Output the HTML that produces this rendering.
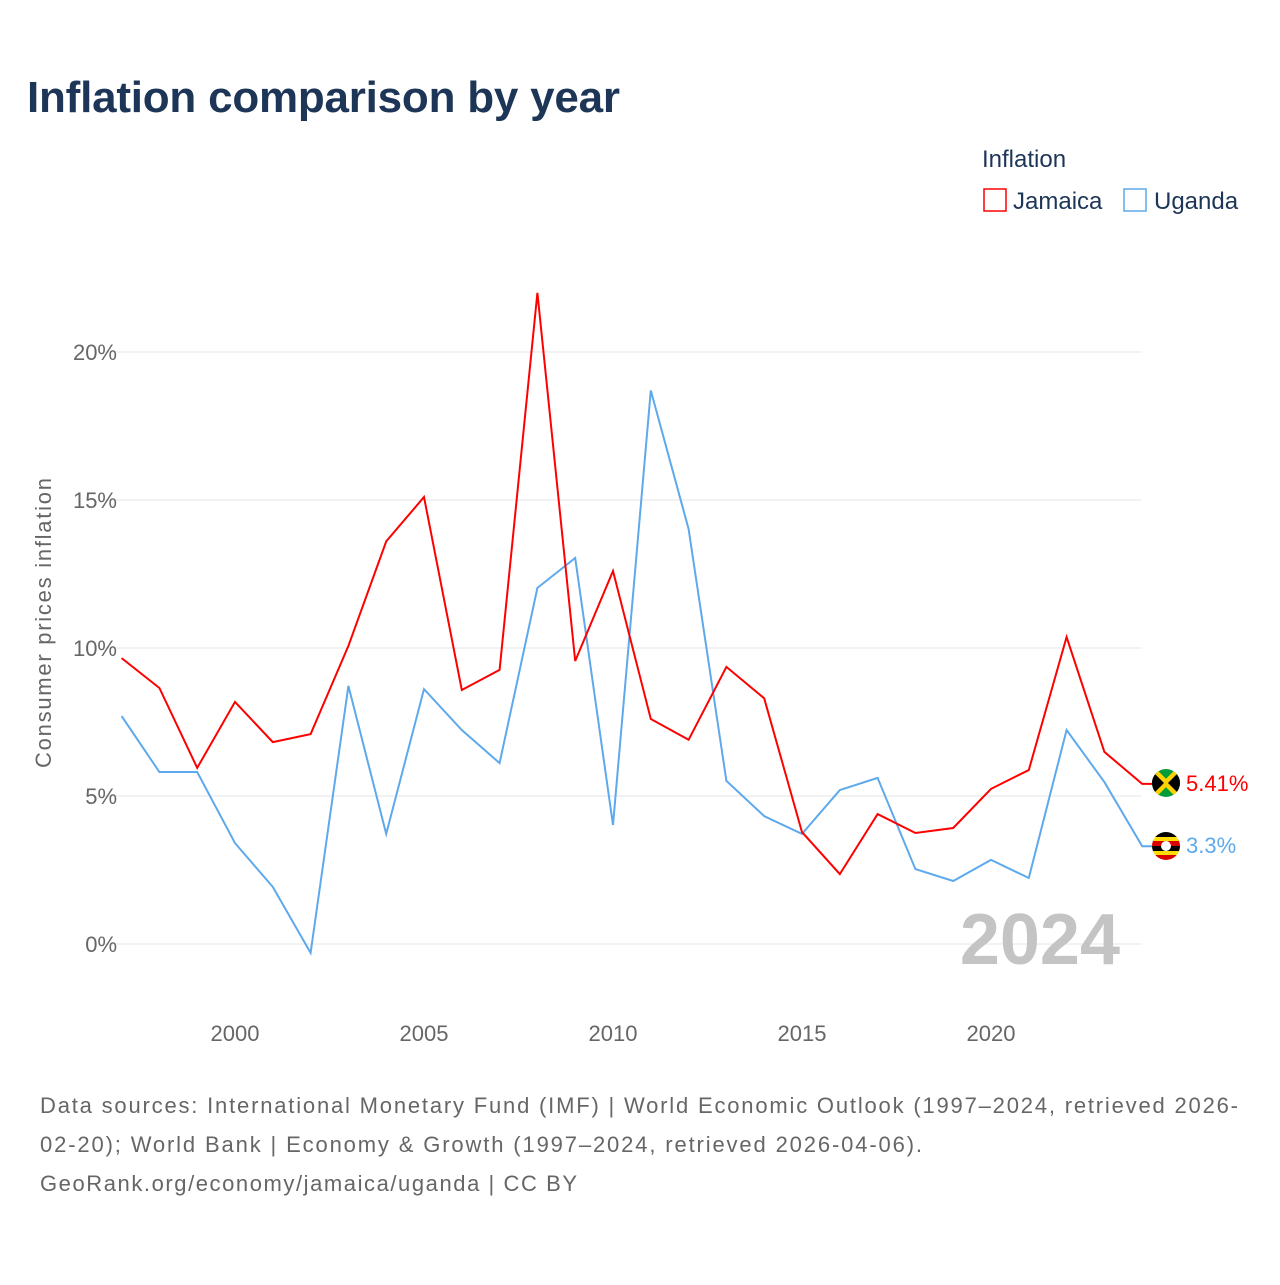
<!DOCTYPE html>
<html><head><meta charset="utf-8"><style>
body{margin:0;background:#fff;width:1280px;height:1280px;overflow:hidden;font-family:"Liberation Sans",sans-serif}
</style></head><body>
<svg width="1280" height="1280" xmlns="http://www.w3.org/2000/svg">
<defs>
<clipPath id="cj"><circle cx="1166" cy="783" r="14"/></clipPath>
<clipPath id="cu"><circle cx="1166" cy="846" r="14"/></clipPath>
</defs>
<text x="27" y="112" font-size="44" font-weight="bold" fill="#1d3557" textLength="593">Inflation comparison by year</text>
<text x="982" y="167" font-size="24" fill="#1d3557">Inflation</text>
<g><rect x="984" y="189" width="22" height="22" fill="#fff" stroke="#f00" stroke-width="1.5"/><text x="1013" y="209" font-size="24" fill="#1d3557">Jamaica</text></g>
<g><rect x="1124" y="189" width="22" height="22" fill="#fff" stroke="#5ea9ec" stroke-width="1.5"/><text x="1154" y="209" font-size="24" fill="#1d3557">Uganda</text></g>
<g id="grid"></g>
<text transform="translate(51,623) rotate(-90)" text-anchor="middle" font-size="22" fill="#666" textLength="290">Consumer prices inflation</text>
<text x="1120" y="964" text-anchor="end" font-size="72" font-weight="bold" fill="#c4c4c4">2024</text>
<g id="series"></g>
<g clip-path="url(#cj)">
<rect x="1152" y="769" width="28" height="28" fill="#009b3a"/>
<path d="M1152 769L1180 797M1180 769L1152 797" stroke="#fed100" stroke-width="6"/>
<path d="M1152 771L1164 783L1152 795ZM1180 771L1168 783L1180 795Z" fill="#000"/>
</g>
<g clip-path="url(#cu)">
<rect x="1152" y="832" width="28" height="5" fill="#000"/><rect x="1152" y="837" width="28" height="4" fill="#fcdc04"/>
<rect x="1152" y="841" width="28" height="5" fill="#d90000"/><rect x="1152" y="846" width="28" height="5" fill="#000"/>
<rect x="1152" y="851" width="28" height="4" fill="#fcdc04"/><rect x="1152" y="855" width="28" height="5" fill="#d90000"/>
<circle cx="1166" cy="846" r="5" fill="#fff"/>
</g>
<text x="1186" y="791" font-size="22" fill="#f00">5.41%</text>
<text x="1186" y="853" font-size="22" fill="#5ea9ec">3.3%</text>
<text font-size="22" fill="#666">
<tspan x="40" y="1113" textLength="1198">Data sources: International Monetary Fund (IMF) | World Economic Outlook (1997–2024, retrieved 2026-</tspan>
</text>
<text font-size="22" fill="#666"><tspan x="40" y="1152" textLength="882">02-20); World Bank | Economy &amp; Growth (1997–2024, retrieved 2026-04-06).</tspan></text>
<text font-size="22" fill="#666"><tspan x="40" y="1191" textLength="537">GeoRank.org/economy/jamaica/uganda | CC BY</tspan></text>
</svg>
<script>
const years=[1997,1998,1999,2000,2001,2002,2003,2004,2005,2006,2007,2008,2009,2010,2011,2012,2013,2014,2015,2016,2017,2018,2019,2020,2021,2022,2023,2024];
const jamaica=[9.66,8.65,5.95,8.18,6.82,7.09,10.07,13.6,15.1,8.58,9.26,22.0,9.56,12.6,7.6,6.9,9.36,8.3,3.78,2.36,4.39,3.75,3.92,5.24,5.88,10.37,6.49,5.41];
const uganda=[7.7,5.81,5.81,3.41,1.93,-0.3,8.72,3.72,8.61,7.23,6.11,12.03,13.04,4.02,18.7,14.02,5.51,4.32,3.72,5.2,5.61,2.53,2.13,2.84,2.23,7.23,5.47,3.3];
const yTicks=[0,5,10,15,20];
const xTicks=[2000,2005,2010,2015,2020];
const NS="http://www.w3.org/2000/svg";
const xs=y=>121.6+(y-1997)*37.8;
const ys=v=>944-v*29.6;
const grid=document.getElementById('grid');
yTicks.forEach(t=>{
 const l=document.createElementNS(NS,'line');
 l.setAttribute('x1',105);l.setAttribute('x2',1141);l.setAttribute('y1',ys(t));l.setAttribute('y2',ys(t));
 l.setAttribute('stroke','#e6e6e6');
 
 
 grid.appendChild(l);
 const tx=document.createElementNS(NS,'text');
 tx.setAttribute('x',117);tx.setAttribute('y',ys(t)+8);tx.setAttribute('text-anchor','end');
 tx.setAttribute('font-size','22');tx.setAttribute('fill','#666');tx.textContent=t+'%';
 
 
 grid.appendChild(tx);
});
xTicks.forEach(t=>{
 const tx=document.createElementNS(NS,'text');
 tx.setAttribute('x',xs(t));tx.setAttribute('y',1041);tx.setAttribute('text-anchor','middle');
 tx.setAttribute('font-size','22');tx.setAttribute('fill','#666');tx.textContent=t;
 
 
 grid.appendChild(tx);
});
const series=document.getElementById('series');
function draw(vals,color,name){
 let d=vals.map((v,i)=>(i?'L':'M')+xs(years[i]).toFixed(1)+' '+ys(v).toFixed(1)).join(' ');
 d+=' L'+(xs(years[years.length-1])+10).toFixed(1)+' '+ys(vals[vals.length-1]).toFixed(1);
 const p=document.createElementNS(NS,'path');
 p.setAttribute('d',d);p.setAttribute('fill','none');p.setAttribute('stroke',color);p.setAttribute('stroke-width','2');
 
 
 series.appendChild(p);
}
draw(uganda,'#5ea9ec','uganda-line');
draw(jamaica,'#f00','jamaica-line');
</script>
</body></html>
